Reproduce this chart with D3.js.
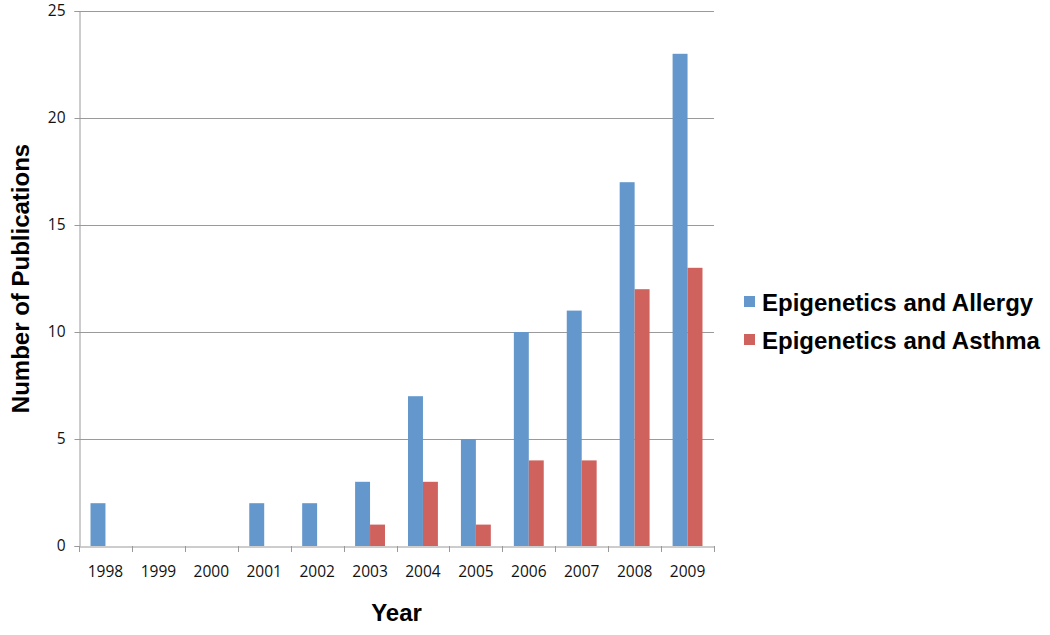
<!DOCTYPE html>
<html>
  <head>
    <style type="text/css">
        body { margin: 0; background: #fff; }
        .tick text { font-family: "Open Sans", "DejaVu Sans", sans-serif; font-size: 15.5px; fill: #111; }
    </style>
  </head>
  <body>
    <svg width="1050" height="635"></svg>
    <script src="https://d3js.org/d3.v7.min.js"></script>
    <script>

    // Data
    var years = ["1998", "1999", "2000", "2001", "2002", "2003", "2004", "2005", "2006", "2007", "2008", "2009"];
    var seriesNames = ["Epigenetics and Allergy", "Epigenetics and Asthma"];
    var allergy = [2, 0, 0, 2, 2, 3, 7, 5, 10, 11, 17, 23];
    var asthma = [0, 0, 0, 0, 0, 1, 3, 1, 4, 4, 12, 13];
    var yTicks = [0, 5, 10, 15, 20, 25];
    var colors = ["#6497CB", "#D0625E"];

    var svg = d3.select("svg");
    var plotLeft = 79, plotRight = 714, plotTop = 11, plotBottom = 546;

    var x = d3.scaleBand().domain(years).range([plotLeft, plotRight]);
    var x1 = d3.scaleBand().domain(seriesNames).range([0, x.bandwidth()]).paddingOuter(0.77);
    var y = d3.scaleLinear().domain([0, 25]).range([plotBottom, plotTop]);
    var color = d3.scaleOrdinal().domain(seriesNames).range(colors);

    // Gridlines
    svg.append("g").selectAll("line")
        .data(yTicks.filter(function(d) { return d > 0; }))
        .enter().append("line")
        .attr("x1", plotLeft).attr("x2", plotRight)
        .attr("y1", function(d) { return Math.round(y(d)) + 0.5; })
        .attr("y2", function(d) { return Math.round(y(d)) + 0.5; })
        .attr("stroke", "#9a9a9a");

    // Bars
    var rows = years.map(function(yr, i) {
        return { year: yr, values: [allergy[i], asthma[i]] };
    });
    svg.append("g").selectAll("g")
        .data(rows)
        .enter().append("g")
        .attr("transform", function(d) { return "translate(" + x(d.year) + ",0)"; })
      .selectAll("rect")
        .data(function(d) { return seriesNames.map(function(s, k) { return { key: s, value: d.values[k] }; }); })
        .enter().append("rect")
        .attr("x", function(d) { return x1(d.key); })
        .attr("width", x1.bandwidth())
        .attr("y", function(d) { return y(d.value); })
        .attr("height", function(d) { return y(0) - y(d.value); })
        .attr("fill", function(d) { return color(d.key); });

    // Axes
    var yAxis = svg.append("g")
        .attr("transform", "translate(" + (plotLeft + 0.5) + ",0)")
        .call(d3.axisLeft(y).tickValues(yTicks).tickSize(5).tickPadding(9));
    var xAxis = svg.append("g")
        .attr("transform", "translate(0," + (plotBottom + 0.5) + ")")
        .call(d3.axisBottom(x).tickSize(0).tickPadding(19));
    // x tick marks at band boundaries
    svg.append("g").selectAll("line")
        .data(years.concat(["end"]))
        .enter().append("line")
        .attr("x1", function(d, i) { return Math.round(plotLeft + i * x.step()) + 0.5; })
        .attr("x2", function(d, i) { return Math.round(plotLeft + i * x.step()) + 0.5; })
        .attr("y1", plotBottom).attr("y2", plotBottom + 6)
        .attr("stroke", "#9a9a9a");
    svg.selectAll(".domain").attr("stroke", "#9a9a9a");
    yAxis.selectAll(".tick line").attr("stroke", "#9a9a9a");

    // Axis titles
    svg.append("text")
        .attr("transform", "translate(29," + ((plotTop + plotBottom) / 2) + ") rotate(-90)")
        .attr("text-anchor", "middle")
        .style("font-family", "Liberation Sans, Arial, sans-serif")
        .style("font-weight", "bold")
        .style("font-size", "24px")
        .text("Number of Publications");
    svg.append("text")
        .attr("x", (plotLeft + plotRight) / 2)
        .attr("y", 621)
        .attr("text-anchor", "middle")
        .style("font-family", "Liberation Sans, Arial, sans-serif")
        .style("font-weight", "bold")
        .style("font-size", "24px")
        .text("Year");

    // Legend
    var legend = svg.append("g").selectAll("g")
        .data(seriesNames)
        .enter().append("g")
        .attr("transform", function(d, i) { return "translate(744," + (302 + i * 38) + ")"; });
    legend.append("rect")
        .attr("x", 0).attr("y", -6)
        .attr("width", 11).attr("height", 11)
        .attr("fill", function(d) { return color(d); });
    legend.append("text")
        .attr("x", 18).attr("y", 0)
        .attr("dy", "0.36em")
        .style("font-family", "Liberation Sans, Arial, sans-serif")
        .style("font-weight", "bold")
        .style("font-size", "24px")
        .text(function(d) { return d; });

    </script>
  </body>
</html>
